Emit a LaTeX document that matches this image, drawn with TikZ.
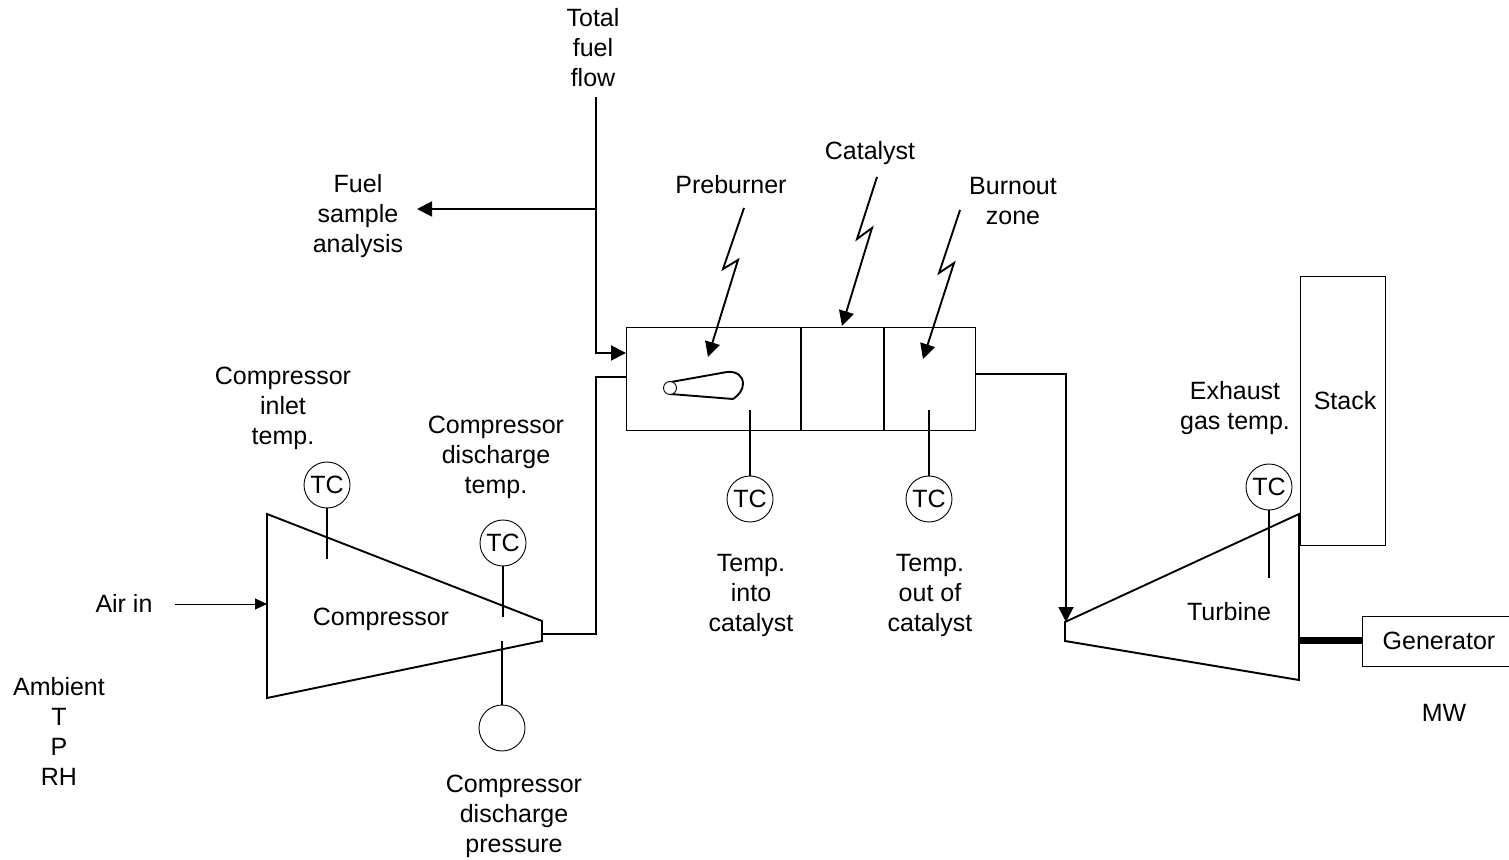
\documentclass[tikz,border=0pt]{standalone}
\usepackage{fontspec}
\setmainfont{Liberation Sans}
\usetikzlibrary{arrows.meta}
\tikzset{
  x=0.5pt,y=-0.5pt,
  lbl/.style={inner sep=0pt,align=center,font=\fontsize{12.5pt}{15pt}\selectfont,text=black},
  tcbox/.style={circle,draw,line width=0.45pt,minimum size=23pt,inner sep=0pt,font=\fontsize{12.5pt}{15pt}\selectfont},
  heavy/.style={line width=0.95pt,line join=miter},
  thin line/.style={line width=0.4pt},
  frame/.style={rectangle,draw,line width=0.5pt,inner sep=0pt},
  tip/.style={-{Triangle[length=7.5pt,width=7.5pt]}},
  smalltip/.style={-{Triangle[length=6pt,width=5.5pt]}}
}
\begin{document}
\begin{tikzpicture}
\useasboundingbox (0,0) rectangle (1509,860);
% combustor frame
\node[frame,minimum width=174.7pt,minimum height=51.5pt,anchor=north west] (comb) at (626,327) {};
\coordinate (d1t) at (801,327); \coordinate (d1b) at (801,430);
\coordinate (d2t) at (884,327); \coordinate (d2b) at (884,430);
\draw[heavy] (d1t) -- (d1b);
\draw[heavy] (d2t) -- (d2b);
% stack and generator
\node[frame,minimum width=42.5pt,minimum height=134.5pt,anchor=north west] (stack) at (1299.5,276) {};
\node[frame,minimum width=74pt,minimum height=25pt,anchor=north west] (gen) at (1362,616) {};
% compressor
\coordinate (c1) at (267,514); \coordinate (c2) at (542,621);
\coordinate (c3) at (542,641); \coordinate (c4) at (267,698);
\draw[heavy] (c1) -- (c2) -- (c3) -- (c4) -- cycle;
% turbine
\coordinate (t1) at (1065,622); \coordinate (t2) at (1299,514);
\coordinate (t3) at (1299,680); \coordinate (t4) at (1065,641);
\draw[heavy] (t1) -- (t2) -- (t3) -- (t4) -- cycle;
% TC instruments
\node[tcbox] (tc1) at (327,485) {TC};
\node[tcbox] (tc2) at (503,543) {TC};
\node[tcbox] (pg) at (502,728) {};
\node[tcbox] (tc3) at (750,499) {TC};
\node[tcbox] (tc4) at (929,499) {TC};
\node[tcbox] (tc5) at (1269,487) {TC};
\coordinate (p1) at (327,559);
\coordinate (p2) at (503,617);
\coordinate (p3) at (502,641);
\coordinate (p4) at (750,410);
\coordinate (p5) at (929,410);
\coordinate (p6) at (1269,578);
\draw[heavy] (tc1) -- (p1);
\draw[heavy] (tc2) -- (p2);
\draw[heavy] (pg) -- (p3);
\draw[heavy] (tc3) -- (p4);
\draw[heavy] (tc4) -- (p5);
\draw[heavy] (tc5) -- (p6);
% labels
\node[lbl] (ltotal) at (593,48) {Total\\fuel\\flow};
\node[lbl] (lfuel) at (358,216) {Fuel\\sample\\analysis};
\node[lbl] (lpre) at (731,185) {Preburner};
\node[lbl] (lcat) at (870,153) {Catalyst};
\node[lbl] (lburn) at (1013,201) {Burnout\\zone};
\node[lbl] (lci) at (283,408) {Compressor\\inlet\\temp.};
\node[lbl] (lcd) at (496,457) {Compressor\\discharge\\temp.};
\node[lbl] (lcomp) at (381,619) {Compressor};
\node[lbl] (lair) at (124,603) {Air in};
\node[lbl] (lamb) at (59,731) {Ambient\\T\\P\\RH};
\node[lbl] (lcp) at (514,816) {Compressor\\discharge\\pressure};
\node[lbl] (lti) at (751,595) {Temp.\\into\\catalyst};
\node[lbl] (lto) at (930,595) {Temp.\\out of\\catalyst};
\node[lbl] (lex) at (1235,408) {Exhaust\\gas temp.};
\node[lbl] (lstack) at (1345,401) {Stack};
\node[lbl] (lturb) at (1229,612) {Turbine};
\node[lbl] (lgen) at (1439,641) {Generator};
\node[lbl] (lmw) at (1444,713) {MW};
% piping
\coordinate (a1) at (175,604); \coordinate (a2) at (267,604);
\draw[thin line,smalltip] (a1) -- (a2);
\coordinate (f0) at (596,97); \coordinate (f1) at (596,209);
\coordinate (f2) at (417,209); \coordinate (f3) at (596,353);
\coordinate (f4) at (626,353);
\draw[heavy,tip] (f0) -- (f3) -- (f4);
\draw[heavy,tip] (f1) -- (f2);
\coordinate (g0) at (542,634); \coordinate (g1) at (596,634);
\coordinate (g2) at (596,377); \coordinate (g3) at (626,377);
\draw[heavy] (g0) -- (g1) -- (g2) -- (g3);
\coordinate (h0) at (975,374); \coordinate (h1) at (1066,374);
\coordinate (h2) at (1066,622);
\draw[heavy,tip] (h0) -- (h1) -- (h2);
\coordinate (s0) at (1299,640); \coordinate (s1) at (1362,640);
\draw[line width=3.5pt] (s0) -- (s1);
% zig-zag leaders
\coordinate (z1a) at (744,208); \coordinate (z1b) at (723,269);
\coordinate (z1c) at (738,260); \coordinate (z1d) at (708,357);
\draw[heavy,tip] (z1a) -- (z1b) -- (z1c) -- (z1d);
\coordinate (z2a) at (877,177); \coordinate (z2b) at (857,239);
\coordinate (z2c) at (872,228); \coordinate (z2d) at (842,326);
\draw[heavy,tip] (z2a) -- (z2b) -- (z2c) -- (z2d);
\coordinate (z3a) at (960,210); \coordinate (z3b) at (939,273);
\coordinate (z3c) at (954,263); \coordinate (z3d) at (923,359);
\draw[heavy,tip] (z3a) -- (z3b) -- (z3c) -- (z3d);
% preburner flame
\draw[heavy] (671,382) -- (727,372) .. controls (737,371) and (743,376) .. (743,384)
  .. controls (743,390) and (738,396) .. (733,399) -- (670,394);
\node[circle,draw,fill=white,line width=0.45pt,minimum size=6.5pt,inner sep=0pt] (burner) at (670,388) {};
\end{tikzpicture}
\end{document}
